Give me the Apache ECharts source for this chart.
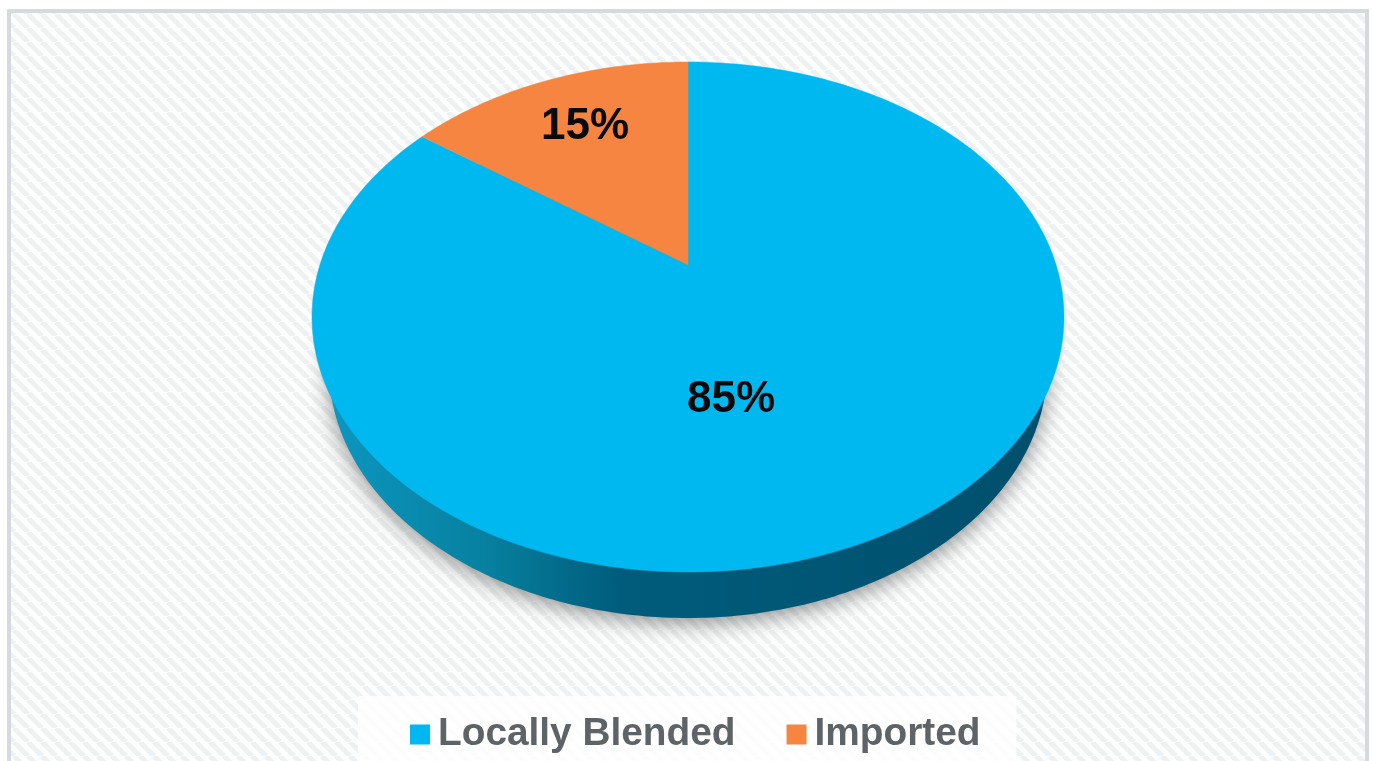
<!DOCTYPE html>
<html>
<head>
<meta charset="utf-8">
<style>html,body{margin:0;padding:0;background:#fff}#c{width:1373px;height:761px}</style>
<script src="https://cdn.jsdelivr.net/npm/echarts@6/dist/echarts.min.js"></script>
</head>
<body>
<div id="c"></div>
<script>
const categories = ['Locally Blended', 'Imported'];
const shares = [85, 15];
const labels = ['85%', '15%'];
const colors = ['#00b8f0', '#f58540'];

// Layout of the tilted disc (a perspective view of a circle)
const TOP = { cx: 688, cy: 317, rx: 376, ry: 255, apexY: 265 };
const RIM = { cx: 688, cy: 368, rx: 359, ry: 250 };
const LABEL_AT = [[731, 400], [585, 127]];

const total = shares.reduce((a, b) => a + b, 0);
const yTop = TOP.cy - TOP.ry, yBot = TOP.cy + TOP.ry;
const up = TOP.apexY - yTop, down = yBot - TOP.apexY;
const persp = (up - down) / (up + down);
const kY = up * (1 - persp);
const kX = TOP.rx * Math.sqrt(1 - persp * persp);

function project(turn) {
  const a = turn * 2 * Math.PI, x = Math.sin(a), y = -Math.cos(a), w = 1 + persp * y;
  return [TOP.cx + kX * x / w, TOP.apexY + kY * y / w];
}
function wedge(from, to) {
  const pts = [[TOP.cx, TOP.apexY]], n = Math.max(8, Math.ceil((to - from) * 360));
  for (let i = 0; i <= n; i++) pts.push(project(from + (to - from) * i / n));
  return pts;
}
function rimOutline() {
  const pts = [];
  for (let i = 0; i < 360; i++) {
    const a = i * Math.PI / 180;
    pts.push([RIM.cx + RIM.rx * Math.cos(a), RIM.cy + RIM.ry * Math.sin(a)]);
  }
  return pts;
}
function hatch() {
  const s = 14, cv = document.createElement('canvas');
  cv.width = s; cv.height = s;
  const g = cv.getContext('2d');
  g.fillStyle = '#fdfefe'; g.fillRect(0, 0, s, s);
  g.strokeStyle = '#eef1f2'; g.lineWidth = 5;
  for (let k = -s; k <= 2 * s; k += s) {
    g.beginPath(); g.moveTo(k, 0); g.lineTo(k + s, s); g.stroke();
  }
  return cv;
}

function sliceRenderer(index) {
  return function () {
    const from = shares.slice(0, index).reduce((a, b) => a + b, 0) / total;
    const to = from + shares[index] / total;
    const children = [];
    if (index === 0) {
      children.push({
        type: 'polygon',
        shape: { points: rimOutline() },
        style: {
          fill: {
            type: 'linear', x: 330, y: 0, x2: 1050, y2: 0, global: true,
            colorStops: [
              { offset: 0, color: '#0c96bf' },
              { offset: 0.22, color: '#07809f' },
              { offset: 0.4, color: '#005c7c' },
              { offset: 1, color: '#004f6c' }
            ]
          },
          shadowColor: 'rgba(50,50,50,0.55)',
          shadowBlur: 22,
          shadowOffsetX: 0,
          shadowOffsetY: 5
        }
      });
    }
    children.push({
      type: 'polygon',
      shape: { points: wedge(from, to) },
      style: { fill: colors[index], stroke: colors[index], lineWidth: 0.5 }
    });
    children.push({
      type: 'text',
      z2: 10,
      style: {
        x: LABEL_AT[index][0], y: LABEL_AT[index][1],
        text: labels[index],
        fill: '#0a0a0a',
        font: 'bold 44px "Liberation Sans", Arial, sans-serif',
        align: 'center', verticalAlign: 'middle'
      }
    });
    return { type: 'group', children };
  };
}

const chart = echarts.init(document.getElementById('c'), null, { renderer: 'canvas', width: 1373, height: 761 });
chart.setOption({
  animation: false,
  backgroundColor: '#ffffff',
  graphic: [{
    type: 'rect', z: -10, silent: true,
    shape: { x: 9, y: 11, width: 1358, height: 780 },
    style: { fill: { image: hatch(), repeat: 'repeat' }, stroke: '#d6dadc', lineWidth: 4 }
  }],
  legend: {
    data: categories,
    left: 358, top: 696,
    orient: 'horizontal',
    icon: 'rect',
    itemWidth: 20, itemHeight: 20, itemGap: 51,
    padding: [19, 36, 30, 52],
    backgroundColor: 'rgba(255,255,255,0.8)',
    selectedMode: false,
    textStyle: {
      color: '#5e6367', fontSize: 38.8, fontWeight: 'bold',
      fontFamily: '"Liberation Sans", Arial, sans-serif', padding: [0, 0, 0, 3]
    }
  },
  series: categories.map((name, i) => ({
    type: 'custom',
    name,
    coordinateSystem: 'none',
    silent: true,
    clip: false,
    itemStyle: { color: colors[i] },
    renderItem: sliceRenderer(i),
    data: [shares[i]]
  }))
});
</script>
</body>
</html>
